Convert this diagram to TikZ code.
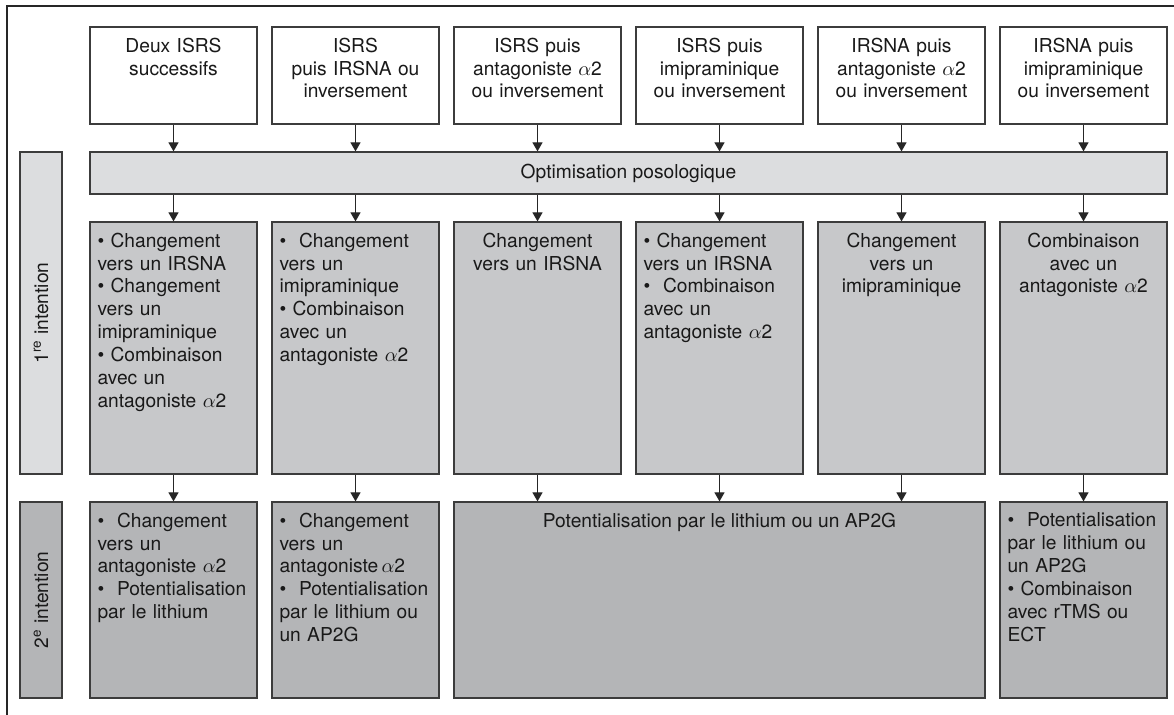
\documentclass[tikz,border=0pt]{standalone}
\usepackage{fontspec}
\setmainfont{TeX Gyre Heros}
\usepackage{tikz}
\usetikzlibrary{arrows.meta}
\definecolor{boxline}{RGB}{60,60,60}
\definecolor{lightfill}{RGB}{220,221,223}
\definecolor{midfill}{RGB}{199,200,202}
\definecolor{darkfill}{RGB}{180,181,183}
\hyphenpenalty=10000
\exhyphenpenalty=10000

\tikzset{
  every node/.style={font=\fontsize{9.6}{11.45}\selectfont, text=black!90},
  cell/.style={draw=boxline, line width=0.6pt, minimum width=83.5pt, inner sep=0pt},
  topbox/.style={cell, fill=white, minimum height=48.5pt},
  midbox/.style={cell, fill=midfill, minimum height=126pt},
  darkbox/.style={cell, fill=darkfill, minimum height=98pt},
  sidebox/.style={draw=boxline, line width=0.6pt, rotate=90, minimum height=21pt, inner sep=0pt},
  celltext/.style={text width=76pt, anchor=north, inner sep=0pt},
  arr/.style={-{Triangle[length=4.5pt,width=5pt]}, line width=0.55pt, black!85}
}

\begin{document}
\begin{tikzpicture}[x=0.5pt, y=-0.5pt]
\useasboundingbox (0,0) rectangle (1174,715);

% ── Rahmen ─────────────────────────────────────────────
\draw[line width=1pt, black!85] (7,715) -- (7,6) -- (1174,6);

% ── Seitenleisten ──────────────────────────────────────
\node[sidebox, fill=lightfill, minimum width=161pt] (side1) at (41,313) {1\textsuperscript{re} intention};
\node[sidebox, fill=darkfill, minimum width=98pt] (side2) at (41,600) {2\textsuperscript{e} intention};

% ── Optimisation ───────────────────────────────────────
\node[cell, fill=lightfill, minimum width=538.5pt, minimum height=21pt] (bar) at (628.5,173) {Optimisation posologique};

% ── Kopfzeile ──────────────────────────────────────────
\foreach \i/\txt in {
  1/{Deux ISRS\\successifs},
  2/{ISRS\\puis IRSNA ou\\inversement},
  3/{ISRS puis\\antagoniste $\alpha$2\\ou inversement},
  4/{ISRS puis\\imipraminique\\ou inversement},
  5/{IRSNA puis\\antagoniste $\alpha$2\\ou inversement},
  6/{IRSNA puis\\imipraminique\\ou inversement}}
{
  \pgfmathsetmacro{\cx}{173.5+182*(\i-1)}
  \node[topbox] (top\i) at (\cx,75.5) {};
  \node[celltext, align=center] (toptxt\i) at ([yshift=-5.5pt]top\i.north) {\txt};
  \draw[arr] (top\i) -- (top\i |- bar.north);
}

% ── 1. Intention ───────────────────────────────────────
\foreach \i/\al/\txt in {
  1/left/{\textbullet~Changement\\vers un IRSNA\\\textbullet~Changement\\vers un\\imipraminique\\\textbullet~Combinaison\\avec un\\antagoniste $\alpha$2},
  2/left/{\textbullet~ Changement\\vers un\\imipraminique\\\textbullet~Combinaison\\avec un\\antagoniste $\alpha$2},
  3/center/{Changement\\vers un IRSNA},
  4/left/{\textbullet~Changement\\vers un IRSNA\\\textbullet~ Combinaison\\avec un\\antagoniste $\alpha$2},
  5/center/{Changement\\vers un\\imipraminique},
  6/center/{Combinaison\\avec un\\antagoniste $\alpha$2}}
{
  \pgfmathsetmacro{\cx}{173.5+182*(\i-1)}
  \node[midbox] (rone\i) at (\cx,348) {};
  \node[celltext, align/.expanded=\al] (ronetxt\i) at ([yshift=-5.5pt]rone\i.north) {\txt};
  \draw[arr] (bar.south -| rone\i) -- (rone\i);
}

% ── 2. Intention ───────────────────────────────────────
\node[darkbox] (rtwo1) at (173.5,600) {};
\node[darkbox] (rtwo2) at (355.5,600) {};
\node[darkbox, minimum width=265.5pt] (rtwo3) at (719.5,600) {};
\node[darkbox] (rtwo6) at (1083.5,600) {};

\node[celltext, align=left] (rtwotxt1) at ([yshift=-5.5pt]rtwo1.north)
  {\textbullet~ Changement\\vers un\\antagoniste $\alpha$2\\\textbullet~ Potentialisation\\par le lithium};
\node[celltext, align=left] (rtwotxt2) at ([yshift=-5.5pt]rtwo2.north)
  {\textbullet~ Changement\\vers un\\antagoniste\,$\alpha$2\\\textbullet~ Potentialisation\\par le lithium ou\\un AP2G};
\node[anchor=north, inner sep=0pt] (rtwotxt3) at ([yshift=-5.5pt]rtwo3.north)
  {Potentialisation par le lithium ou un AP2G};
\node[celltext, align=left] (rtwotxt6) at ([yshift=-5.5pt]rtwo6.north)
  {\textbullet~ Potentialisation\\par le lithium ou\\un AP2G\\\textbullet~Combinaison\\avec rTMS ou\\ECT};

\foreach \i in {1,2,6}
  \draw[arr] (rone\i) -- (rtwo\i);
\foreach \i in {3,4,5}
  \draw[arr] (rone\i) -- (rone\i |- rtwo3.north);

\end{tikzpicture}
\end{document}
